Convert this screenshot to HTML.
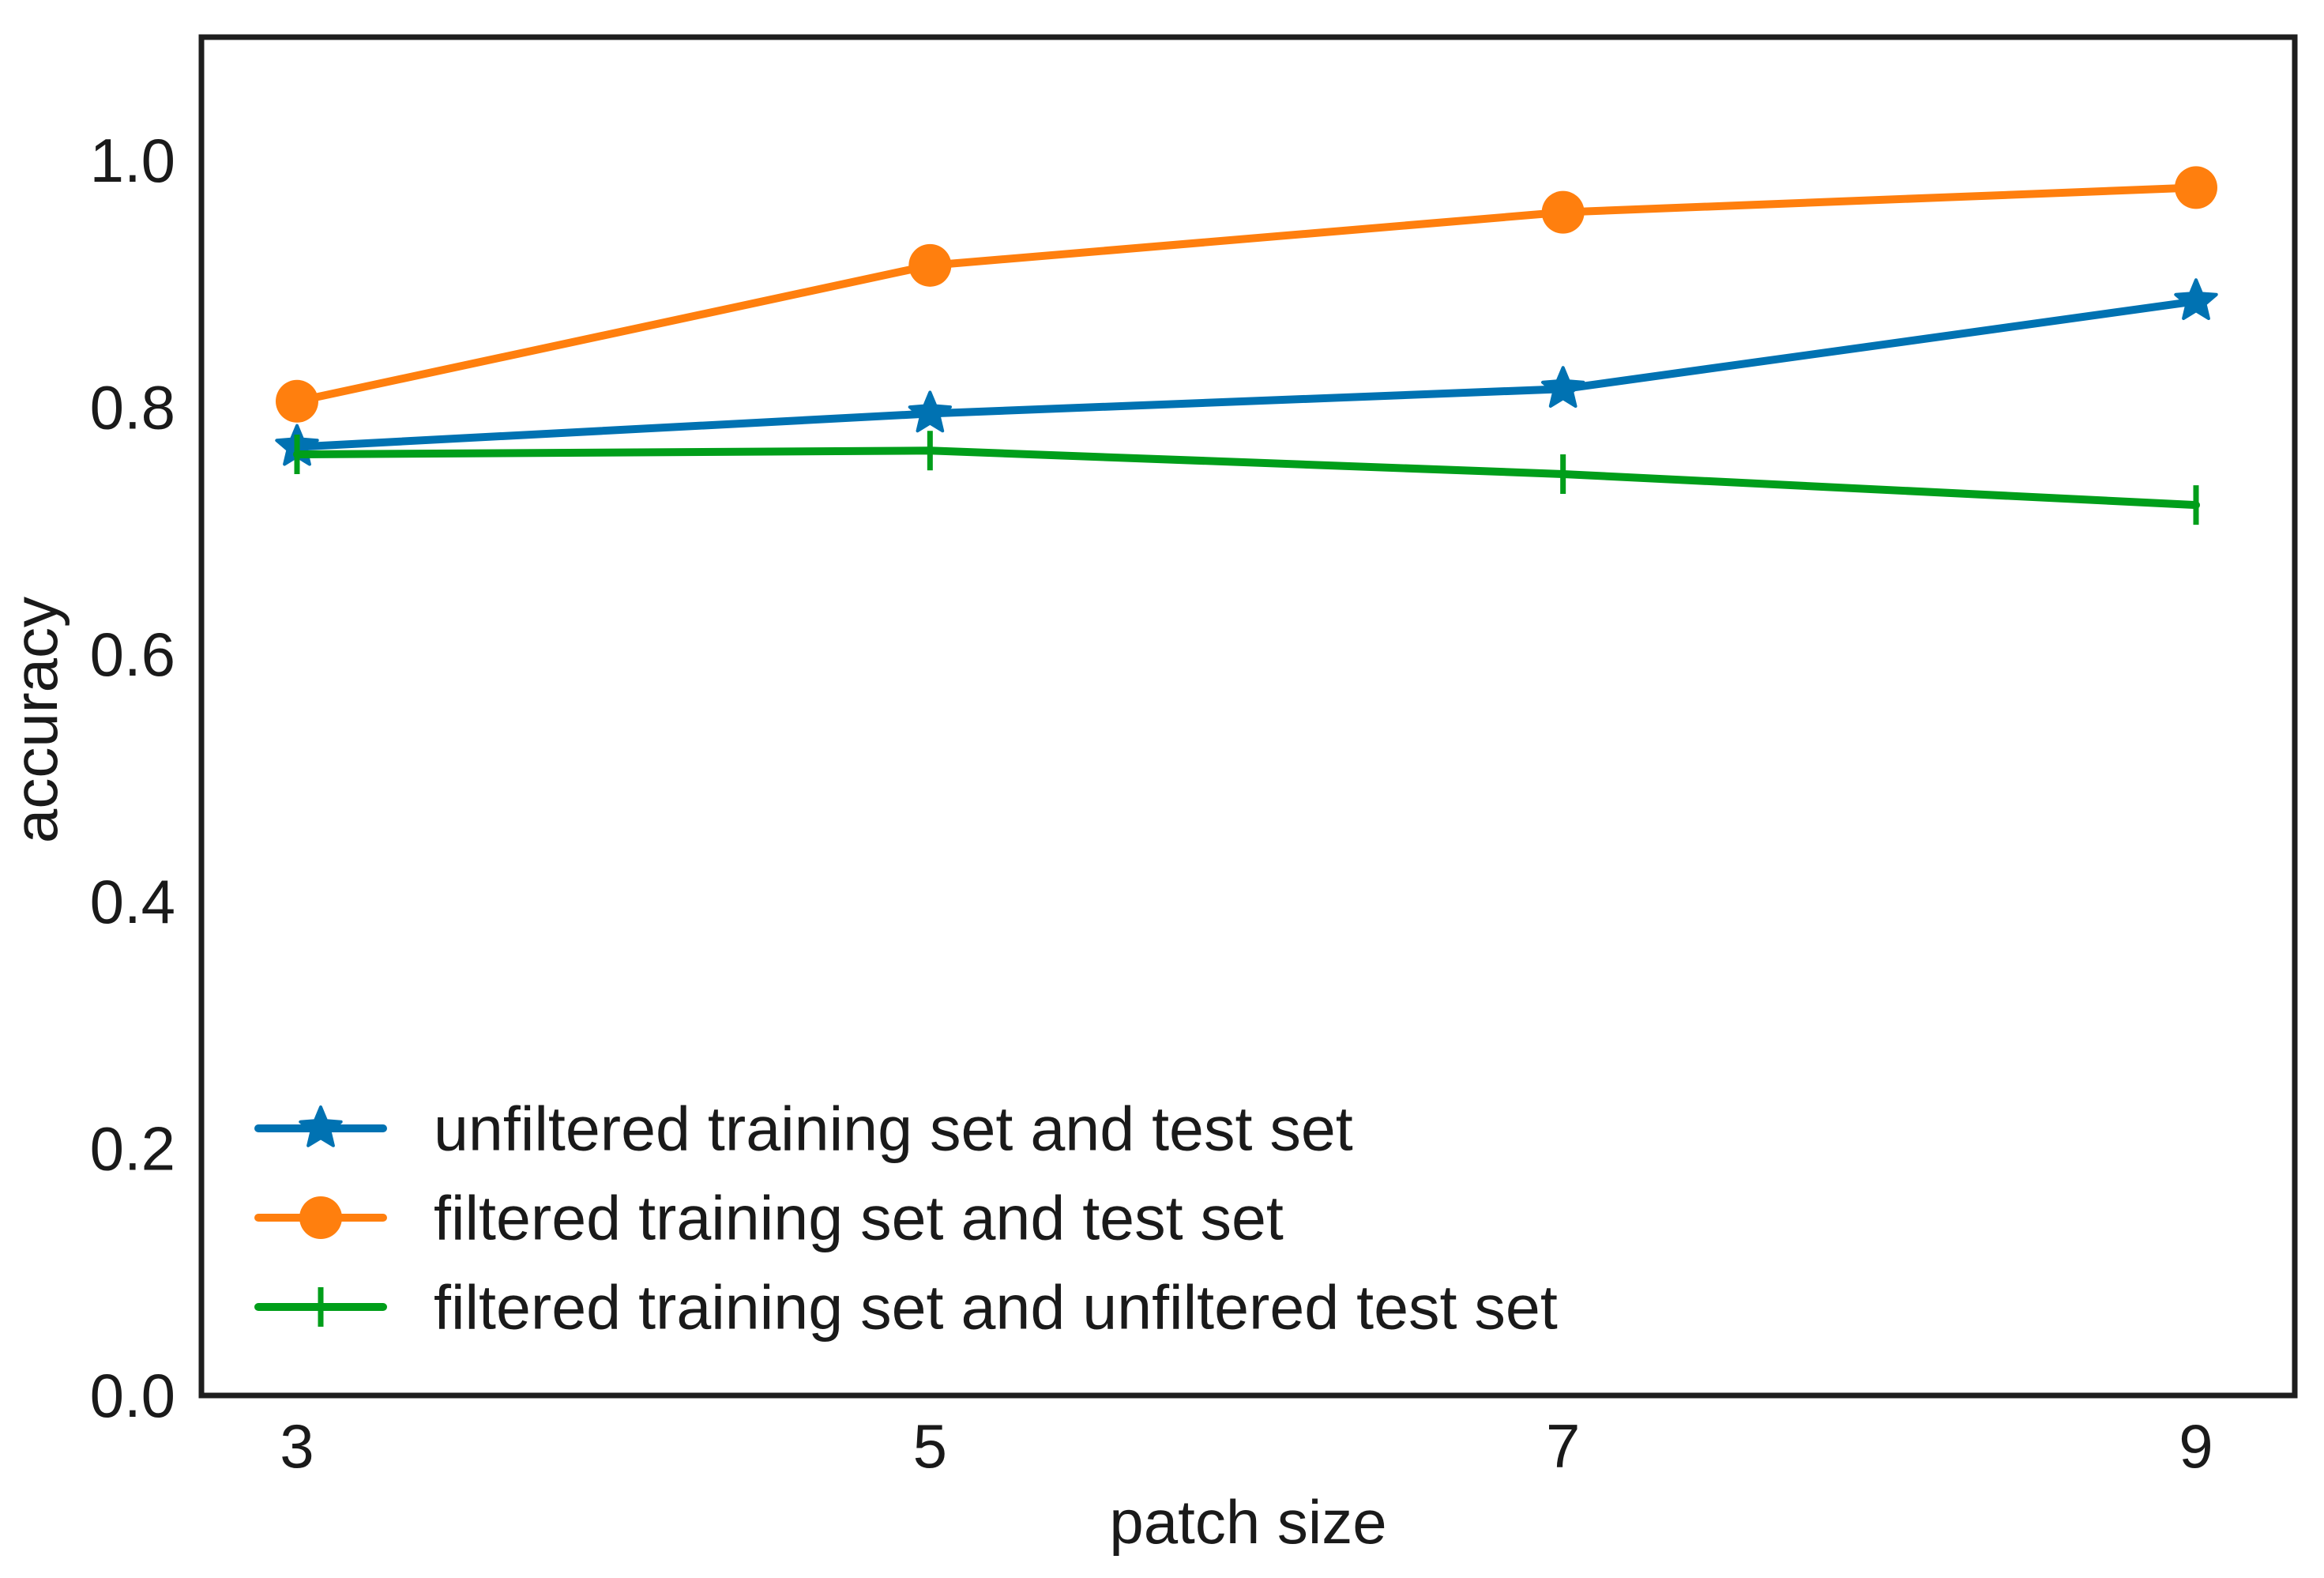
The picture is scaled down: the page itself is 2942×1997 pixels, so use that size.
<!DOCTYPE html>
<html><head><meta charset="utf-8">
<style>
html,body{margin:0;padding:0;background:#fff;}
svg{display:block;}
text{font-family:"Liberation Sans",Arial,sans-serif;fill:#1a1a1a;}
</style></head>
<body>
<svg id="chart" width="2942" height="1997" viewBox="0 0 2942 1997" xmlns="http://www.w3.org/2000/svg"></svg>
<script>
const categories = [3, 5, 7, 9];
const unfilteredValues = [0.768, 0.795, 0.815, 0.886];
const filteredValues = [0.805, 0.915, 0.958, 0.978];
const mixedValues = [0.762, 0.765, 0.746, 0.721];
const yTicks = [0.0, 0.2, 0.4, 0.6, 0.8, 1.0];
const yTickLabels = ["0.0", "0.2", "0.4", "0.6", "0.8", "1.0"];
const legendLabels = ["unfiltered training set and test set", "filtered training set and test set", "filtered training set and unfiltered test set"];

const NS = "http://www.w3.org/2000/svg";
const svg = document.getElementById("chart");
const L = 255, R = 2905, T = 47, B = 1766;
const X0 = 376, X1 = 2780;
function xs(v){ return X0 + (v - 3) / 6 * (X1 - X0); }
function ys(v){ return 1766 - v * 1563; }
function mk(tag, attrs, parent){
  const e = document.createElementNS(NS, tag);
  for (const k in attrs) e.setAttribute(k, attrs[k]);
  (parent || svg).appendChild(e);
  return e;
}
function starPts(cx, cy, r){
  const pts = [];
  for (let i = 0; i < 10; i++){
    const a = -Math.PI/2 + i * Math.PI/5;
    const rr = i % 2 ? r * 0.45 : r;
    pts.push((cx + rr*Math.cos(a)).toFixed(1) + "," + (cy + rr*Math.sin(a)).toFixed(1));
  }
  return pts.join(" ");
}
function drawMarker(g, type, cx, cy, color){
  let m;
  if (type === "star"){
    m = mk("polygon", {points: starPts(cx, cy, 27), fill: color, stroke: color, "stroke-width": 4, "stroke-linejoin": "round"}, g);
  } else if (type === "circle"){
    m = mk("circle", {cx: cx, cy: cy, r: 27, fill: color}, g);
  } else {
    m = mk("line", {x1: cx, y1: cy - 25, x2: cx, y2: cy + 25, stroke: color, "stroke-width": 7}, g);
  }
  return m;
}

const frame = mk("rect", {x: L, y: T, width: R - L, height: B - T, fill: "none", stroke: "#1e1e1e", "stroke-width": 7});



yTicks.forEach((v, i) => {
  const t = mk("text", {x: 222, y: ys(v), "font-size": 78, "text-anchor": "end", "dominant-baseline": "central"});
  t.textContent = yTickLabels[i];
  
  
});
categories.forEach(c => {
  const t = mk("text", {x: xs(c), y: 1830, "font-size": 78, "text-anchor": "middle", "dominant-baseline": "central"});
  t.textContent = String(c);
  
  
});
const xl = mk("text", {x: 1580, y: 1953, "font-size": 78, "text-anchor": "middle"});
xl.textContent = "patch size";


const yl = mk("text", {x: 0, y: 0, "font-size": 78, "text-anchor": "middle", transform: "translate(72,911) rotate(-90)"});
yl.textContent = "accuracy";



const series = [
  {vals: unfilteredValues, color: "#0072b2", marker: "star", name: "series-unfiltered"},
  {vals: filteredValues, color: "#ff7f0e", marker: "circle", name: "series-filtered"},
  {vals: mixedValues, color: "#009e1a", marker: "plus", name: "series-filtered-train-unfiltered-test"}
];
series.forEach(s => {
  const g = mk("g", {});
  
  
  const pts = s.vals.map((v, i) => xs(categories[i]).toFixed(1) + "," + ys(v).toFixed(1)).join(" ");
  const pl = mk("polyline", {points: pts, fill: "none", stroke: s.color, "stroke-width": 10, "stroke-linejoin": "round", "stroke-linecap": "round"}, g);
  
  
  s.vals.forEach((v, i) => {
    const m = drawMarker(g, s.marker, xs(categories[i]), ys(v), s.color);
    
    
  });
});

const lg = mk("g", {});


const rowY = [1428, 1541, 1654];
series.forEach((s, i) => {
  const y = rowY[i];
  const ln = mk("line", {x1: 327, y1: y, x2: 485, y2: y, stroke: s.color, "stroke-width": 10, "stroke-linecap": "round"}, lg);
  
  
  const m = drawMarker(lg, s.marker, 406, y, s.color);
  
  
  const t = mk("text", {x: 549, y: y, "font-size": 79, "dominant-baseline": "central"}, lg);
  t.textContent = legendLabels[i];
  
  
});
</script>
</body></html>
